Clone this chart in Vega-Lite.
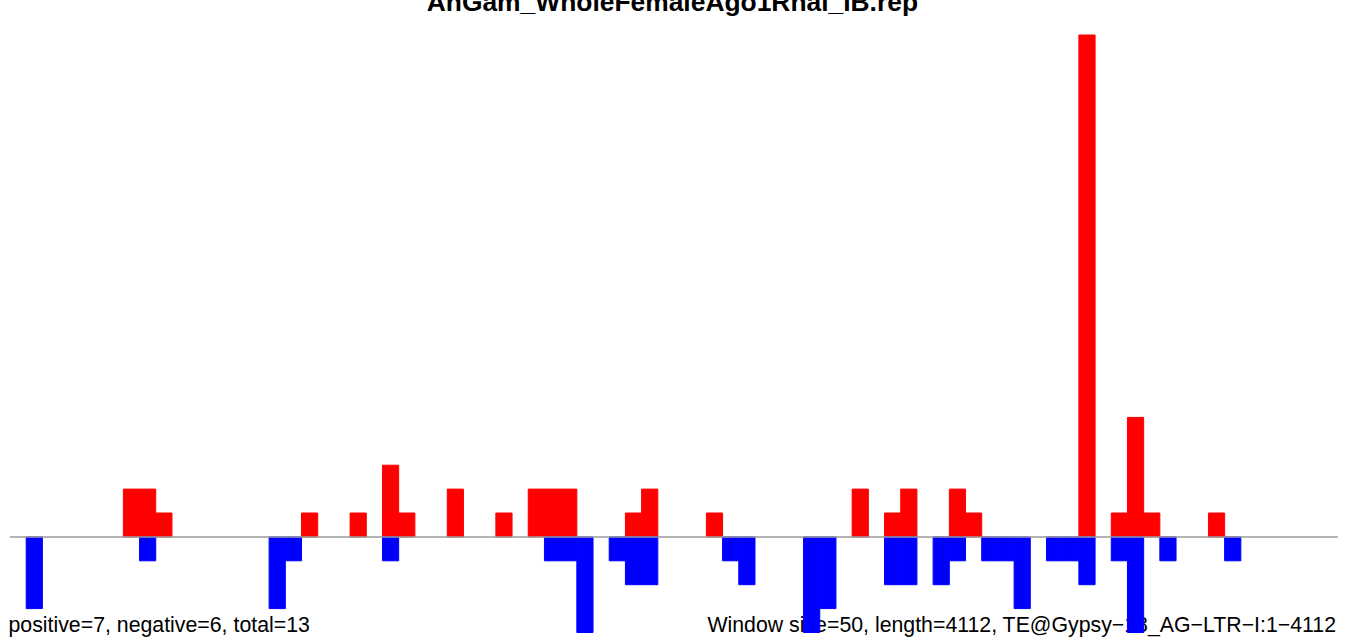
{
  "$schema": "https://vega.github.io/schema/vega-lite/v6.json",
  "width": 1328,
  "height": 597.5,
  "autosize": {"type": "none"},
  "padding": {"left": 10, "top": 35, "right": 12, "bottom": 11.5},
  "background": "white",
  "config": {"view": {"stroke": null}},
  "layer": [
    {
      "data": {"values": [{"label": "positive=7, negative=6, total=13"}]},
      "mark": {"type": "text", "align": "left", "baseline": "alphabetic", "font": "Liberation Sans", "fontSize": 21.3, "color": "#000000", "dx": -1.5, "dy": -1},
      "encoding": {
        "x": {"datum": 0, "type": "quantitative", "scale": {"domain": [0, 4100], "nice": false, "zero": false}, "axis": null},
        "y": {"datum": -4, "type": "quantitative", "scale": {"domain": [-4, 21], "nice": false, "zero": false}, "axis": null},
        "text": {"field": "label"}
      }
    },
    {
      "data": {"values": [{"label": "Window size=50, length=4112, TE@Gypsy−18_AG−LTR−I:1−4112"}]},
      "mark": {"type": "text", "align": "right", "baseline": "alphabetic", "font": "Liberation Sans", "fontSize": 21.3, "color": "#000000", "dx": -2, "dy": -1},
      "encoding": {
        "x": {"datum": 4100, "type": "quantitative"},
        "y": {"datum": -4, "type": "quantitative"},
        "text": {"field": "label"}
      }
    },
    {
      "data": {"values": [{"label": "AnGam_WholeFemaleAgo1Rnai_IB.rep"}]},
      "mark": {"type": "text", "align": "center", "baseline": "alphabetic", "font": "Liberation Sans", "fontWeight": "bold", "fontSize": 26.4, "color": "#000000", "dy": -24},
      "encoding": {
        "x": {"datum": 2045, "type": "quantitative"},
        "y": {"datum": 21, "type": "quantitative"},
        "text": {"field": "label"}
      }
    },
    {
      "data": {"values": [
        {"start": 350, "end": 400, "strand": "positive", "count": 2},
        {"start": 400, "end": 450, "strand": "positive", "count": 2},
        {"start": 450, "end": 500, "strand": "positive", "count": 1},
        {"start": 900, "end": 950, "strand": "positive", "count": 1},
        {"start": 1050, "end": 1100, "strand": "positive", "count": 1},
        {"start": 1150, "end": 1200, "strand": "positive", "count": 3},
        {"start": 1200, "end": 1250, "strand": "positive", "count": 1},
        {"start": 1350, "end": 1400, "strand": "positive", "count": 2},
        {"start": 1500, "end": 1550, "strand": "positive", "count": 1},
        {"start": 1600, "end": 1650, "strand": "positive", "count": 2},
        {"start": 1650, "end": 1700, "strand": "positive", "count": 2},
        {"start": 1700, "end": 1750, "strand": "positive", "count": 2},
        {"start": 1900, "end": 1950, "strand": "positive", "count": 1},
        {"start": 1950, "end": 2000, "strand": "positive", "count": 2},
        {"start": 2150, "end": 2200, "strand": "positive", "count": 1},
        {"start": 2600, "end": 2650, "strand": "positive", "count": 2},
        {"start": 2700, "end": 2750, "strand": "positive", "count": 1},
        {"start": 2750, "end": 2800, "strand": "positive", "count": 2},
        {"start": 2900, "end": 2950, "strand": "positive", "count": 2},
        {"start": 2950, "end": 3000, "strand": "positive", "count": 1},
        {"start": 3300, "end": 3350, "strand": "positive", "count": 21},
        {"start": 3400, "end": 3450, "strand": "positive", "count": 1},
        {"start": 3450, "end": 3500, "strand": "positive", "count": 5},
        {"start": 3500, "end": 3550, "strand": "positive", "count": 1},
        {"start": 3700, "end": 3750, "strand": "positive", "count": 1},
        {"start": 50, "end": 100, "strand": "negative", "count": -3},
        {"start": 400, "end": 450, "strand": "negative", "count": -1},
        {"start": 800, "end": 850, "strand": "negative", "count": -3},
        {"start": 850, "end": 900, "strand": "negative", "count": -1},
        {"start": 1150, "end": 1200, "strand": "negative", "count": -1},
        {"start": 1650, "end": 1700, "strand": "negative", "count": -1},
        {"start": 1700, "end": 1750, "strand": "negative", "count": -1},
        {"start": 1750, "end": 1800, "strand": "negative", "count": -4},
        {"start": 1850, "end": 1900, "strand": "negative", "count": -1},
        {"start": 1900, "end": 1950, "strand": "negative", "count": -2},
        {"start": 1950, "end": 2000, "strand": "negative", "count": -2},
        {"start": 2200, "end": 2250, "strand": "negative", "count": -1},
        {"start": 2250, "end": 2300, "strand": "negative", "count": -2},
        {"start": 2450, "end": 2500, "strand": "negative", "count": -4},
        {"start": 2500, "end": 2550, "strand": "negative", "count": -3},
        {"start": 2700, "end": 2750, "strand": "negative", "count": -2},
        {"start": 2750, "end": 2800, "strand": "negative", "count": -2},
        {"start": 2850, "end": 2900, "strand": "negative", "count": -2},
        {"start": 2900, "end": 2950, "strand": "negative", "count": -1},
        {"start": 3000, "end": 3050, "strand": "negative", "count": -1},
        {"start": 3050, "end": 3100, "strand": "negative", "count": -1},
        {"start": 3100, "end": 3150, "strand": "negative", "count": -3},
        {"start": 3200, "end": 3250, "strand": "negative", "count": -1},
        {"start": 3250, "end": 3300, "strand": "negative", "count": -1},
        {"start": 3300, "end": 3350, "strand": "negative", "count": -2},
        {"start": 3400, "end": 3450, "strand": "negative", "count": -1},
        {"start": 3450, "end": 3500, "strand": "negative", "count": -4},
        {"start": 3550, "end": 3600, "strand": "negative", "count": -1},
        {"start": 3750, "end": 3800, "strand": "negative", "count": -1}
      ]},
      "mark": {"type": "rect", "strokeWidth": 1},
      "encoding": {
        "x": {"field": "start", "type": "quantitative"},
        "x2": {"field": "end"},
        "y": {"field": "count", "type": "quantitative"},
        "y2": {"datum": 0},
        "color": {"field": "strand", "type": "nominal", "scale": {"domain": ["positive", "negative"], "range": ["#FF0000", "#0000FF"]}, "legend": null},
        "stroke": {"field": "strand", "type": "nominal", "scale": {"domain": ["positive", "negative"], "range": ["#FF0000", "#0000FF"]}, "legend": null}
      }
    },
    {
      "data": {"values": [{"level": 0}]},
      "mark": {"type": "rule", "color": "#9b9b9b", "strokeWidth": 1.5},
      "encoding": {
        "x": {"datum": 0, "type": "quantitative"},
        "x2": {"datum": 4100},
        "y": {"field": "level", "type": "quantitative"}
      }
    }
  ]
}
